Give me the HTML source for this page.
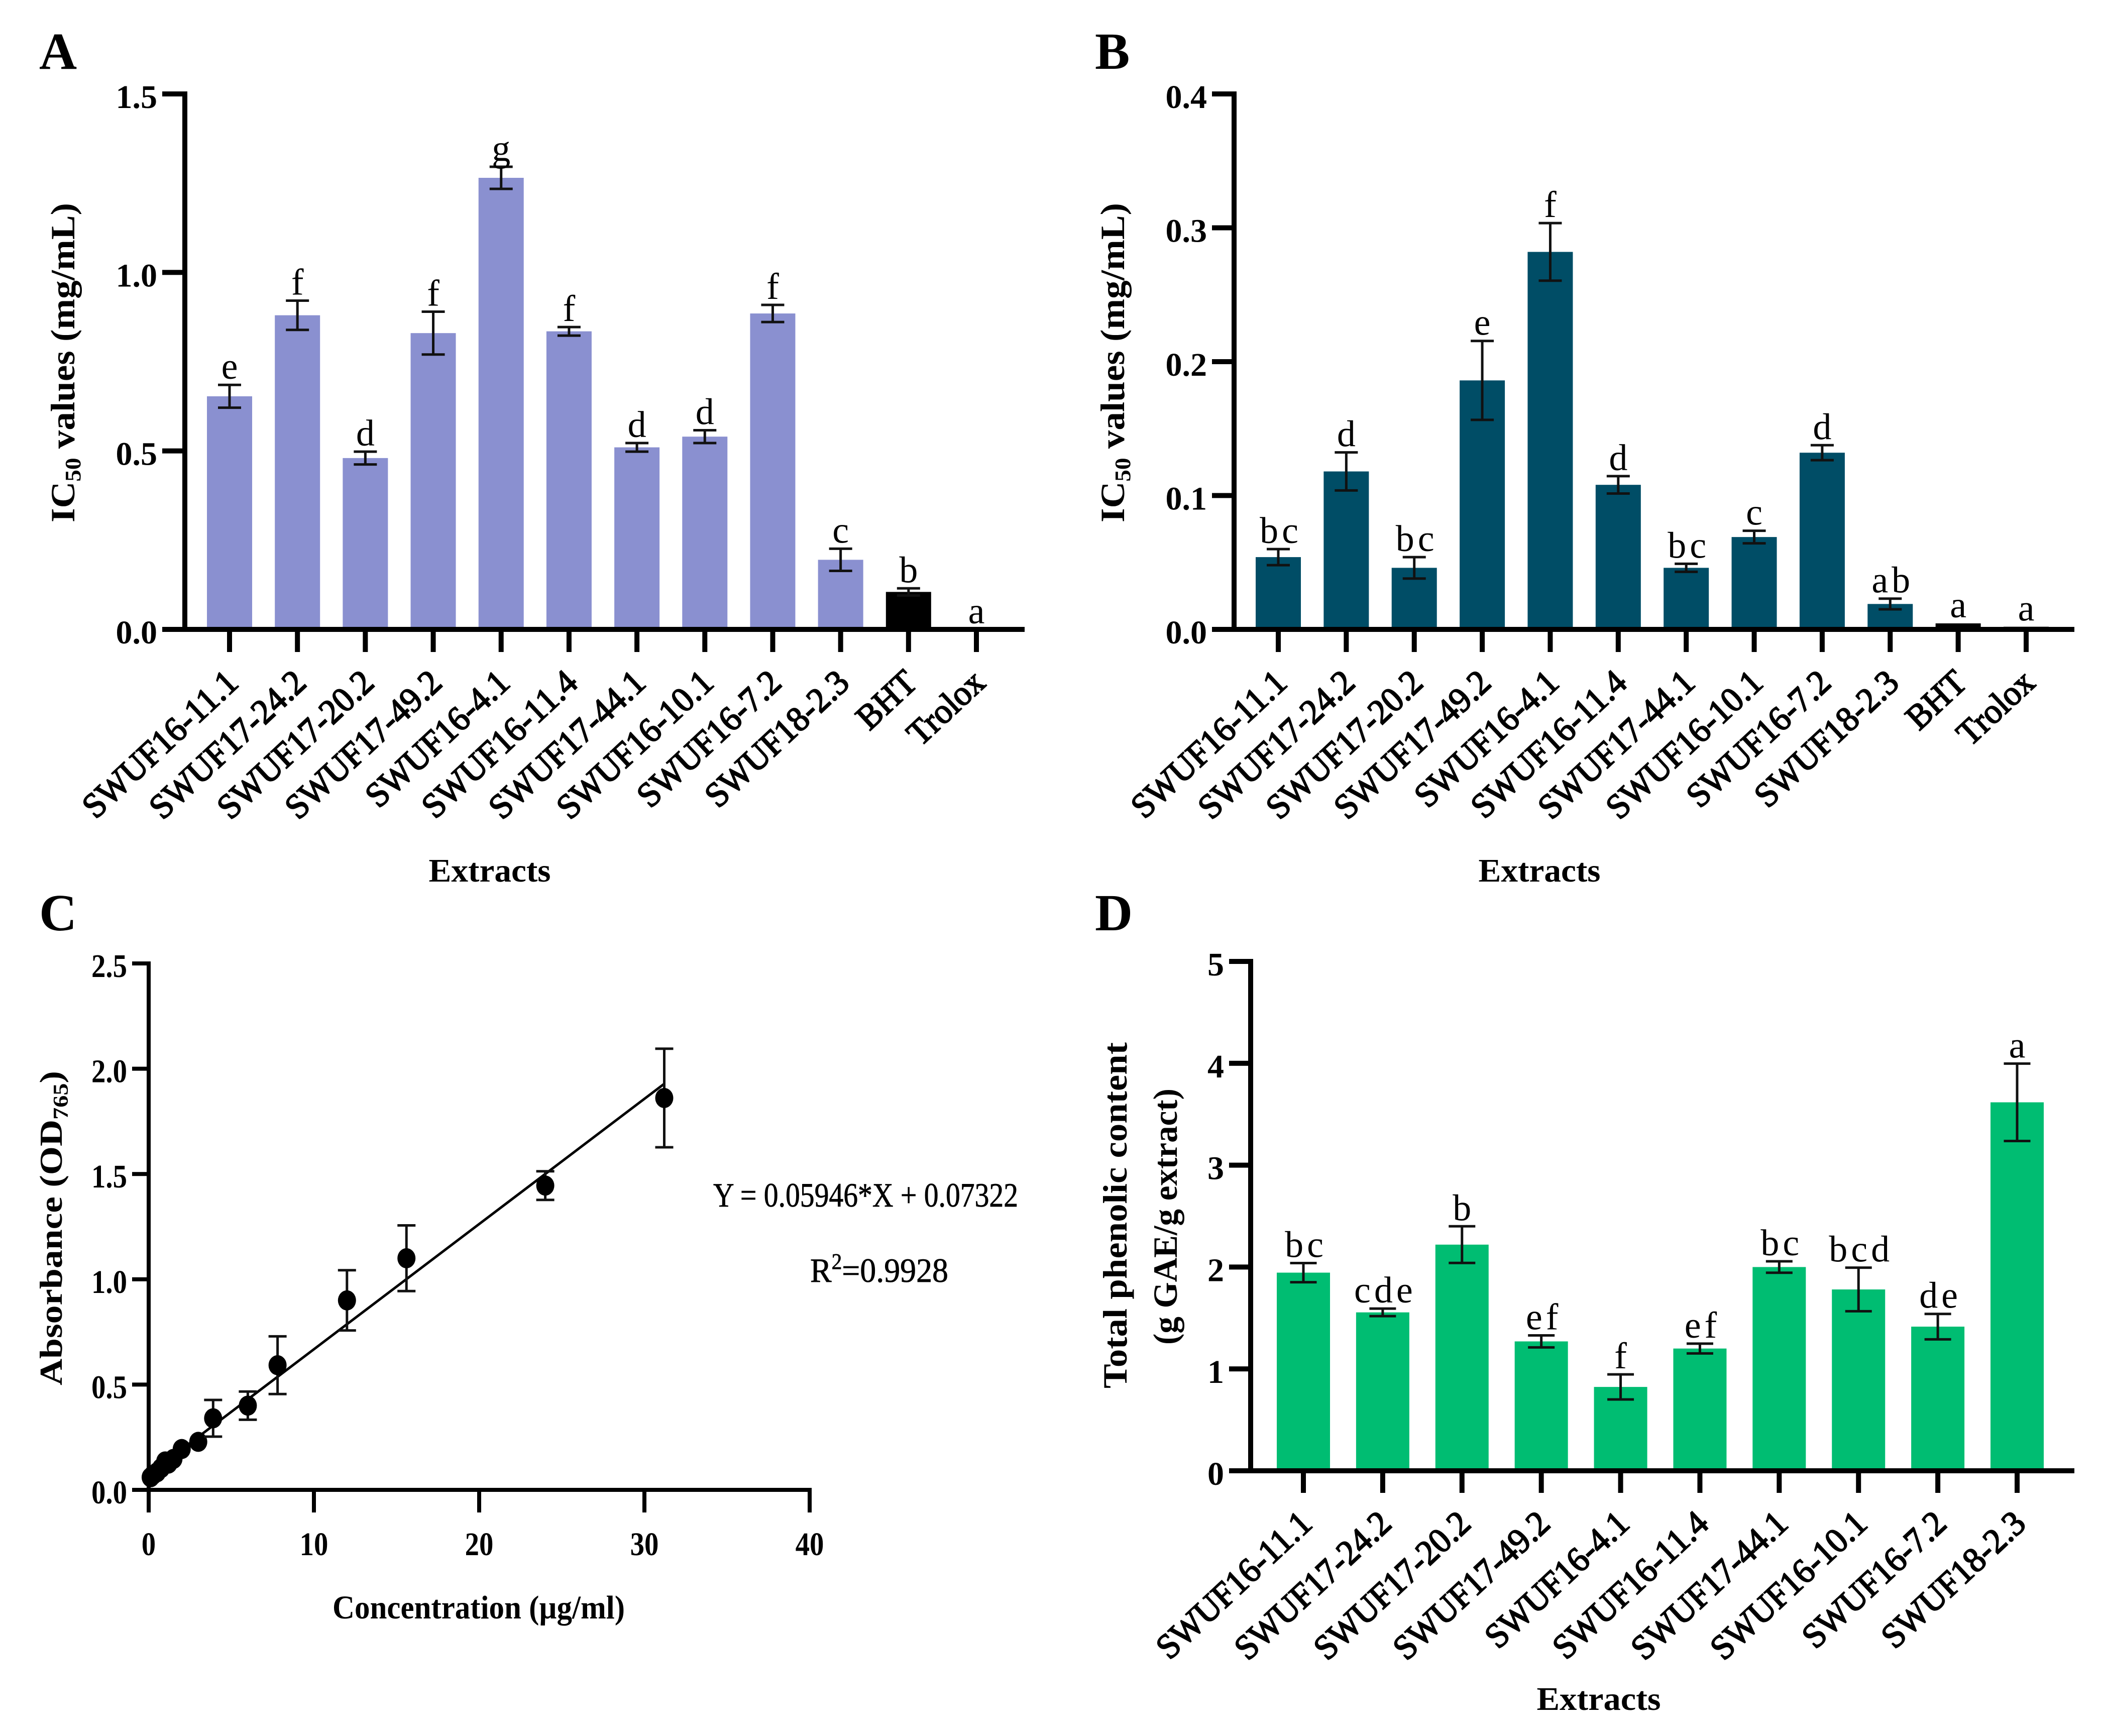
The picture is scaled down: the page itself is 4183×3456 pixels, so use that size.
<!DOCTYPE html>
<html lang="en">
<head>
<meta charset="utf-8">
<title>Extract IC50 values and total phenolic content</title>
<style>
html,body{margin:0;padding:0;background:#fff}
svg{display:block;font-family:"Liberation Serif",serif;fill:#000}
</style>
</head>
<body>
<svg id="figure" width="4183" height="3456" viewBox="0 0 4183 3456" xmlns="http://www.w3.org/2000/svg">
<rect width="4183" height="3456" fill="#fff"/>
<text x="78" y="137" font-size="104" font-weight="bold">A</text>
<text x="2180" y="137" font-size="104" font-weight="bold">B</text>
<text x="78" y="1852" font-size="104" font-weight="bold">C</text>
<text x="2180" y="1852" font-size="104" font-weight="bold">D</text>

<text transform="translate(148,1040) rotate(-90)" font-size="68" font-weight="bold" textLength="636" lengthAdjust="spacingAndGlyphs">IC<tspan font-size="44" dy="12">50</tspan><tspan dy="-12"> values (mg/mL)</tspan></text>
<text transform="translate(2238,1040) rotate(-90)" font-size="68" font-weight="bold" textLength="636" lengthAdjust="spacingAndGlyphs">IC<tspan font-size="44" dy="12">50</tspan><tspan dy="-12"> values (mg/mL)</tspan></text>
<text x="975" y="1755" text-anchor="middle" font-size="66" font-weight="bold" textLength="243" lengthAdjust="spacingAndGlyphs">Extracts</text>
<text x="3065" y="1755" text-anchor="middle" font-size="66" font-weight="bold" textLength="243" lengthAdjust="spacingAndGlyphs">Extracts</text>
<text transform="translate(123,2758) rotate(-90)" font-size="64" font-weight="bold" textLength="626" lengthAdjust="spacingAndGlyphs">Absorbance (OD<tspan font-size="42" dy="12">765</tspan><tspan dy="-12">)</tspan></text>
<text x="953" y="3222" text-anchor="middle" font-size="66" font-weight="bold" textLength="582" lengthAdjust="spacingAndGlyphs">Concentration (µg/ml)</text>
<text x="1420" y="2402" font-size="68" textLength="607" lengthAdjust="spacingAndGlyphs" stroke="#000" stroke-width="0.8">Y = 0.05946*X + 0.07322</text>
<text x="1613" y="2552" font-size="68" textLength="275" lengthAdjust="spacingAndGlyphs" stroke="#000" stroke-width="0.8">R<tspan font-size="44" dy="-26">2</tspan><tspan dy="26">=0.9928</tspan></text>
<text transform="translate(2243,2764) rotate(-90)" font-size="68" font-weight="bold" textLength="689" lengthAdjust="spacingAndGlyphs">Total phenolic content</text>
<text transform="translate(2343,2677) rotate(-90)" font-size="68" font-weight="bold" textLength="510" lengthAdjust="spacingAndGlyphs">(g GAE/g extract)</text>
<text x="3183" y="3404" text-anchor="middle" font-size="66" font-weight="bold" textLength="247" lengthAdjust="spacingAndGlyphs">Extracts</text>
<g id="plots"></g>
</svg>
<script>
var categoriesAB = ["SWUF16-11.1","SWUF17-24.2","SWUF17-20.2","SWUF17-49.2","SWUF16-4.1","SWUF16-11.4","SWUF17-44.1","SWUF16-10.1","SWUF16-7.2","SWUF18-2.3","BHT","Trolox"];
var categoriesD = ["SWUF16-11.1","SWUF17-24.2","SWUF17-20.2","SWUF17-49.2","SWUF16-4.1","SWUF16-11.4","SWUF17-44.1","SWUF16-10.1","SWUF16-7.2","SWUF18-2.3"];

var valuesA = [0.653,0.88,0.48,0.83,1.265,0.835,0.51,0.54,0.885,0.195,0.105,0];
var errorsA = [0.032,0.041,0.018,0.06,0.031,0.012,0.012,0.018,0.024,0.031,0.01,0];
var lettersA = ["e","f","d","f","g","f","d","d","f","c","b","a"];
var ticksA = [0,0.5,1,1.5];
var tickLabelsA = ["0.0","0.5","1.0","1.5"];

var valuesB = [0.054,0.118,0.046,0.186,0.282,0.108,0.046,0.069,0.132,0.019,0.0045,0.002];
var errorsB = [0.006,0.0142,0.008,0.0295,0.0215,0.0065,0.003,0.0047,0.0056,0.004,0,0];
var lettersB = ["bc","d","bc","e","f","d","bc","c","d","ab","a","a"];
var ticksB = [0,0.1,0.2,0.3,0.4];
var tickLabelsB = ["0.0","0.1","0.2","0.3","0.4"];

var valuesD = [1.945,1.555,2.22,1.27,0.823,1.2,2.0,1.78,1.415,3.617];
var errorsD = [0.094,0.037,0.18,0.059,0.123,0.048,0.056,0.214,0.125,0.38];
var lettersD = ["bc","cde","b","ef","f","ef","bc","bcd","de","a"];
var ticksD = [0,1,2,3,4,5];
var tickLabelsD = ["0","1","2","3","4","5"];

var concentrationC = [0.12,0.25,0.5,0.75,1,1.2,1.5,2,3,3.9,6,7.8,12,15.6,24,31.2];
var absorbanceC = [0.06,0.07,0.083,0.103,0.135,0.125,0.147,0.194,0.228,0.34,0.4,0.592,0.9,1.1,1.445,1.861];
var absorbanceErrorC = [0,0,0,0,0,0,0,0,0,0.087,0.067,0.137,0.143,0.156,0.068,0.234];
var fitSlopeC = 0.05946;
var fitInterceptC = 0.07322;
var fitRangeC = [0,31.2];
var xTicksC = [0,10,20,30,40];
var xTickLabelsC = ["0","10","20","30","40"];
var yTicksC = [0,0.5,1,1.5,2,2.5];
var yTickLabelsC = ["0.0","0.5","1.0","1.5","2.0","2.5"];

var NS = "http://www.w3.org/2000/svg";
var plots = document.getElementById("plots");

function el(tag, attrs, parent) {
  var n = document.createElementNS(NS, tag);
  for (var k in attrs) n.setAttribute(k, attrs[k]);
  (parent || plots).appendChild(n);
  return n;
}

function drawBarPanel(id, p, categories, values, errors, letters, ticks, tickLabels) {
  var g = el("g", {});
  
  
  var yScale = function (v) { return p.y0 + (p.yTop - p.y0) * v / p.yMax; };
  var xScale = function (i) { return p.xFirst + i * (p.xLast - p.xFirst) / (categories.length - 1); };

  values.forEach(function (v, i) {
    var x = xScale(i);
    var bar = el("rect", { x: x - p.barW / 2, y: yScale(v), width: p.barW, height: Math.max(0, p.y0 - yScale(v)), fill: p.color(i) }, g);
    
    
    var top = yScale(v + errors[i]), bottom = yScale(v - errors[i]);
    if (errors[i] > 0) {
      var e = el("path", { d: "M" + x + " " + top + "V" + bottom + "M" + (x - p.cap / 2) + " " + top + "H" + (x + p.cap / 2) + "M" + (x - p.cap / 2) + " " + bottom + "H" + (x + p.cap / 2), stroke: "#111", "stroke-width": 5, fill: "none" }, g);
      
      
    }
    var multi = letters[i].length > 1;
    var t = el("text", { x: x + (multi ? 5 : 0), y: top - 12, "text-anchor": "middle", "font-size": 74, "letter-spacing": multi ? 7 : 0 }, g);
    t.textContent = letters[i];
    
    

    var tk = el("rect", { x: x - 5, y: p.y0, width: 10, height: p.tickBottom - p.y0, fill: "#000" }, g);
    
    
    var lab = el("text", { transform: "translate(" + (x + 21) + "," + (p.tickBottom + 66) + ") rotate(-43) scale(0.965,1)", "text-anchor": "end", "font-size": 70, stroke: "#000", "stroke-width": 2.2 }, g);
    lab.textContent = categories[i];
    
    
  });

  var ya = el("rect", { x: p.axisX - 5, y: yScale(p.yMax) - 5, width: 10, height: p.y0 - yScale(p.yMax) + 5, fill: "#000" }, g);
  
  
  var xa = el("rect", { x: p.axisLeft, y: p.y0 - 5, width: p.axisRight - p.axisLeft, height: 10, fill: "#000" }, g);
  
  

  ticks.forEach(function (tv, i) {
    var y = yScale(tv);
    var tk = el("rect", { x: p.axisLeft, y: y - 5, width: p.axisX - p.axisLeft, height: 10, fill: "#000" }, g);
    
    
    var t = el("text", { x: p.axisLeft - 10, y: y + 28, "text-anchor": "end", "font-size": 66, "font-weight": "bold" }, g);
    t.textContent = tickLabels[i];
    
    
  });
}

function drawScatterPanel() {
  var p = { x0: 296, x40: 1612, xMax: 40, y0: 2966, yTop: 1918, yMax: 2.5, axisLeft: 263, tickBottom: 3011 };
  var g = el("g", {});
  
  
  var xScale = function (v) { return p.x0 + (p.x40 - p.x0) * v / p.xMax; };
  var yScale = function (v) { return p.y0 + (p.yTop - p.y0) * v / p.yMax; };

  var ya = el("rect", { x: xScale(0) - 4, y: p.yTop - 4, width: 8, height: p.y0 - p.yTop + 4, fill: "#000" }, g);
  
  
  var xa = el("rect", { x: p.axisLeft, y: p.y0 - 4, width: p.x40 + 4 - p.axisLeft, height: 8, fill: "#000" }, g);
  
  

  yTicksC.forEach(function (tv, i) {
    var tk = el("rect", { x: p.axisLeft, y: yScale(tv) - 4, width: xScale(0) - p.axisLeft, height: 8, fill: "#000" }, g);
    
    
    var t = el("text", { transform: "translate(" + (p.axisLeft - 10) + "," + (yScale(tv) + 27) + ") scale(0.86,1)", "text-anchor": "end", "font-size": 66, "font-weight": "bold" }, g);
    t.textContent = yTickLabelsC[i];
    
    
  });
  xTicksC.forEach(function (tv, i) {
    var tk = el("rect", { x: xScale(tv) - 4, y: p.y0, width: 8, height: p.tickBottom - p.y0, fill: "#000" }, g);
    
    
    var t = el("text", { transform: "translate(" + xScale(tv) + ",3096) scale(0.86,1)", "text-anchor": "middle", "font-size": 66, "font-weight": "bold" }, g);
    t.textContent = xTickLabelsC[i];
    
    
  });

  var fit = el("line", { x1: xScale(fitRangeC[0]), y1: yScale(fitInterceptC + fitSlopeC * fitRangeC[0]), x2: xScale(fitRangeC[1]), y2: yScale(fitInterceptC + fitSlopeC * fitRangeC[1]), stroke: "#000", "stroke-width": 5 }, g);
  
  

  concentrationC.forEach(function (xv, i) {
    var x = xScale(xv), y = yScale(absorbanceC[i]);
    if (absorbanceErrorC[i] > 0) {
      var top = yScale(absorbanceC[i] + absorbanceErrorC[i]), bottom = yScale(absorbanceC[i] - absorbanceErrorC[i]);
      var e = el("path", { d: "M" + x + " " + top + "V" + bottom + "M" + (x - 18) + " " + top + "H" + (x + 18) + "M" + (x - 18) + " " + bottom + "H" + (x + 18), stroke: "#111", "stroke-width": 5, fill: "none" }, g);
      
      
    }
    var pt = el("ellipse", { cx: x, cy: y, rx: 18, ry: 20, fill: "#000" }, g);
    
    
  });
}

drawBarPanel("a", { xFirst: 457, xLast: 1944, y0: 1253, yTop: 187, yMax: 1.5, barW: 90, cap: 46, axisX: 368, axisLeft: 323, axisRight: 2040, tickBottom: 1298,
  color: function (i) { return i === 10 ? "#000" : "#8a90d0"; } }, categoriesAB, valuesA, errorsA, lettersA, ticksA, tickLabelsA);
drawBarPanel("b", { xFirst: 2545, xLast: 4034, y0: 1253, yTop: 187, yMax: 0.4, barW: 90, cap: 46, axisX: 2457, axisLeft: 2413, axisRight: 4130, tickBottom: 1298,
  color: function (i) { return i >= 10 ? "#000" : "#004d66"; } }, categoriesAB, valuesB, errorsB, lettersB, ticksB, tickLabelsB);
drawBarPanel("d", { xFirst: 2595, xLast: 4016, y0: 2928, yTop: 1914, yMax: 5, barW: 106, cap: 53, axisX: 2490, axisLeft: 2447, axisRight: 4130, tickBottom: 2972,
  color: function () { return "#00bd72"; } }, categoriesD, valuesD, errorsD, lettersD, ticksD, tickLabelsD);
drawScatterPanel();
</script>
</body>
</html>
